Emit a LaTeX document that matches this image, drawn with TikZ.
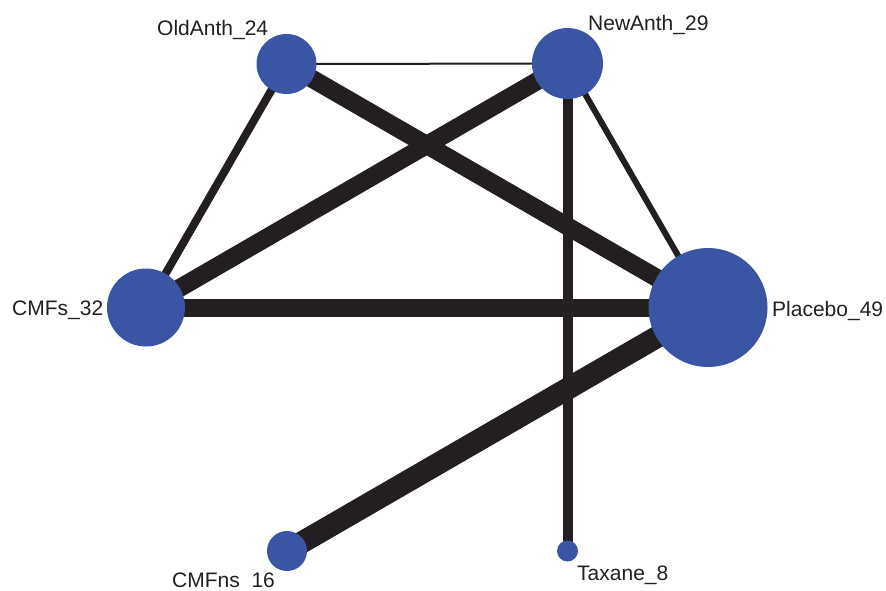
\documentclass[tikz,border=0pt]{standalone}
\usepackage{fontspec}
\setmainfont{Liberation Sans}
\usetikzlibrary{backgrounds}
\definecolor{nodeblue}{HTML}{3A55A4}
\definecolor{edgeink}{HTML}{231F20}
\tikzset{
  trt/.style={circle, fill=nodeblue, draw=none, inner sep=0pt, minimum size=#1},
  lbl/.style={anchor=base west, inner sep=0pt, font=\fontsize{21}{24}\selectfont, text=edgeink},
  link/.style={draw=edgeink, line width=#1, line cap=butt},
}
\begin{document}
\begin{tikzpicture}[x=1pt, y=-1pt]
  \useasboundingbox (0,0) rectangle (886,590);

  % treatments, sized by number of trials
  \node[trt=60pt]  (old)  at (286.5,64)  {};
  \node[trt=71pt]  (new)  at (567.5,63.5) {};
  \node[trt=78pt]  (cmfs) at (146,307.5) {};
  \node[trt=119pt] (plac) at (708,307.5) {};
  \node[trt=40pt]  (cmfn) at (287,551)   {};
  \node[trt=21pt]  (tax)  at (567.5,551) {};

  % direct comparisons, width by number of studies
  \begin{pgfonlayer}{background}
    \draw[link=2pt]  (old.center)  -- (new.center);
    \draw[link=18pt] (old.center)  -- (plac.center);
    \draw[link=8pt]  (old.center)  -- (cmfs.center);
    \draw[link=18pt] (new.center)  -- (cmfs.center);
    \draw[link=6pt]  (new.center)  -- (plac.center);
    \draw[link=10pt] (new.center)  -- (tax.center);
    \draw[link=18pt] (cmfs.center) -- (plac.center);
    \draw[link=22pt] (plac.center) -- (cmfn.center);
  \end{pgfonlayer}

  % labels
  \node[lbl] (lold)  at (157,35)  {OldAnth\_24};
  \node[lbl] (lnew)  at (588,30)  {NewAnth\_29};
  \node[lbl] (lcmfs) at (12,315)  {CMFs\_32};
  \node[lbl] (lplac) at (772,316) {Placebo\_49};
  \node[lbl] (lcmfn) at (172,587) {CMFns\phantom{\_}16};
  \node[lbl] (ltax)  at (577,580) {Taxane\_8};
\end{tikzpicture}
\end{document}
